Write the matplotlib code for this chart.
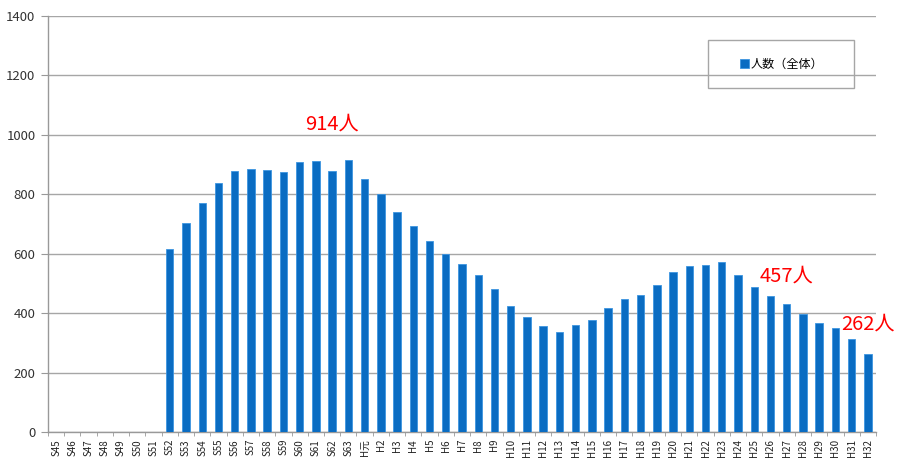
import matplotlib
matplotlib.use("Agg")
import matplotlib.pyplot as plt
from matplotlib.patches import Rectangle
import numpy as np

plt.rcParams['font.family'] = ['Noto Sans CJK JP', 'DejaVu Sans']

categories = ([f"S{n}" for n in range(45, 64)] + ["H元"] +
              [f"H{n}" for n in range(2, 33)])

values = [0, 0, 0, 0, 0, 0, 0,            # S45-S51
          615, 702, 770, 839, 880, 886, 882, 875, 909, 912, 880, 914,  # S52-S63
          852,                             # H元
          801, 739, 693, 644, 599, 567, 530, 480, 424, 386,  # H2-H11
          357, 337, 359, 376, 416, 447, 461, 496, 537, 559,  # H12-H21
          563, 573, 527, 488, 457, 430, 398, 367, 349, 313,  # H22-H31
          262]                             # H32

annotations = [("914人", "S62", 1035), ("457人", "H27", 525), ("262人", "H32", 362)]
legend_label = "人数（全体）"
yticks = [0, 200, 400, 600, 800, 1000, 1200, 1400]

W, H = 897, 463
fig = plt.figure(figsize=(W / 100, H / 100), dpi=100)
ax = fig.add_axes([48 / W, 1 - 432 / H, (876 - 48) / W, (432 - 16) / H])

x = np.arange(len(categories))
bars = ax.bar(x, values, width=0.46, color='#0a6cc2', edgecolor='#3d95e0',
              linewidth=0.6, zorder=3, label=legend_label)

ax.set_xlim(-0.5, len(categories) - 0.5)
ax.set_ylim(0, 1400)
ax.set_yticks(yticks)
ax.set_yticklabels([str(v) for v in yticks], fontsize=9.5, color='#333333')
ax.set_xticks(x)
ax.set_xticklabels(categories, rotation=90, fontsize=7, color='#222222')
ax.set_xticks(np.arange(-0.5, len(categories), 1), minor=True)
ax.tick_params(axis='x', which='major', length=0, pad=5)
ax.tick_params(axis='x', which='minor', length=3, color='#999999')
ax.tick_params(axis='y', length=5, color='#999999', pad=4)

ax.grid(axis='y', color='#a6a6a6', linewidth=1.0, zorder=0)
for s in ['top', 'right']:
    ax.spines[s].set_visible(False)
for s in ['left', 'bottom']:
    ax.spines[s].set_color('#999999')
    ax.spines[s].set_linewidth(1.0)

for txt, cat, yv in annotations:
    xi = categories.index(cat)
    ax.text(xi, yv, txt, color='#ff0000', fontsize=14.5, ha='center', va='center',
            clip_on=False, zorder=5)

# legend box
fig.patches.append(Rectangle((708 / W, 1 - 88 / H), (854 - 708) / W, (88 - 40) / H,
                             transform=fig.transFigure, fill=False,
                             edgecolor='#a6a6a6', linewidth=1.0))
fig.legend(handles=[bars], labels=[legend_label], loc='center',
           bbox_to_anchor=(782 / W, 1 - 64 / H), frameon=False, fontsize=8.7,
           handlelength=0.7, handleheight=0.7, handletextpad=0.2)

fig.savefig("out.png", dpi=100)
